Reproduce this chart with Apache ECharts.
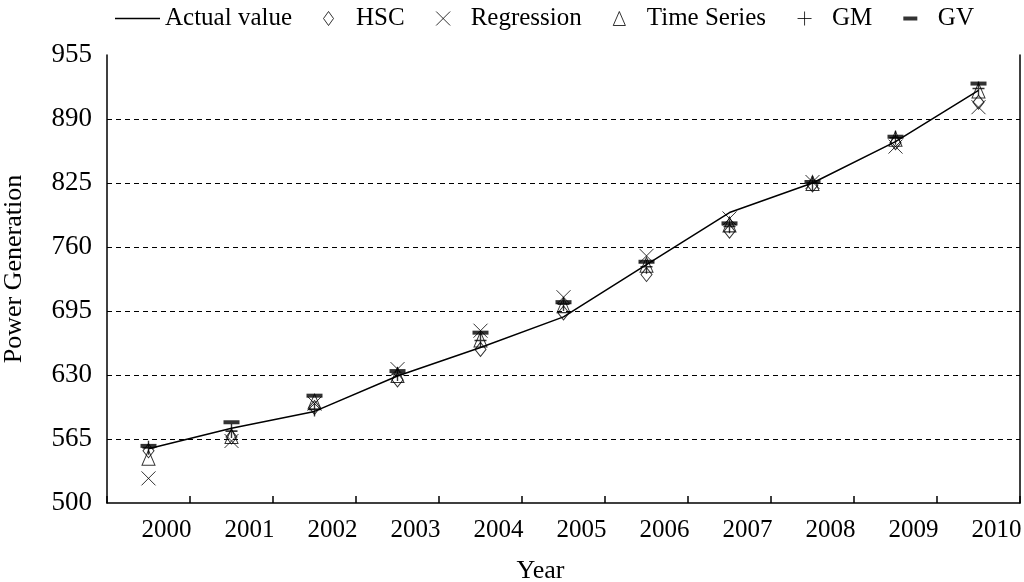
<!DOCTYPE html>
<html>
<head>
<meta charset="utf-8">
<script src="https://cdn.jsdelivr.net/npm/echarts@6/dist/echarts.min.js"></script>
<style>
html,body{margin:0;padding:0;background:#fff;}
#chart{width:1024px;height:582px;}
</style>
</head>
<body>
<div id="chart"></div>
<script>
var years = ['2000','2001','2002','2003','2004','2005','2006','2007','2008','2009','2010'];
var actualValue = [555, 576, 593, 629, 658, 689, 742, 795, 825, 867, 919];
var hscValue    = [553, 567, 597, 625, 656, 693, 732, 776, 823, 866, 907];
var regressionValue = [525, 563, 601, 636, 675, 709, 751, 789, 826, 862, 902];
var timeSeriesValue = [546, 568, 603, 630, 666, 701, 742, 783, 825, 870, 919];
var gmValue = [556, 573, 595, 631, 665, 702, 740, 781, 825, 871, 921];
var gvValue = [558, 582, 609, 634, 673, 704, 745, 784, 826, 872, 926];
var yTicks = {min: 500, max: 955, interval: 65};

var FONT = 'Liberation Serif';
var linePath = 'path://M0,0L45,0L45,1.5L0,1.5Z';
var diamondPath = 'path://M5,0L10,7L5,14L0,7Z';
var crossPath = 'path://M0,0L14,14M14,0L0,14';
var trianglePath = 'path://M6.5,0L13,15L0,15Z';
var plusPath = 'path://M6,0L6,12M0,6L12,6';
var barLegendPath = 'path://M0,0L0,0.01M0,14L0,14.01M0,5L14,5L14,9L0,9Z';

var hollow = {color: 'rgba(0,0,0,0)', borderColor: '#000', borderWidth: 1};
var solid = {color: '#000', borderWidth: 0};

var chart = echarts.init(document.getElementById('chart'));
chart.setOption({
  animation: false,
  backgroundColor: '#fff',
  textStyle: {fontFamily: FONT, color: '#000'},
  legend: {
    left: 110, top: 1,
    itemWidth: 45, itemHeight: 14, itemGap: 31,
    selectedMode: false,
    textStyle: {fontFamily: FONT, fontSize: 25, color: '#000'},
    data: [
      {name: 'Actual value', icon: linePath, itemStyle: solid},
      {name: 'HSC', icon: diamondPath, itemStyle: hollow},
      {name: 'Regression', icon: crossPath, itemStyle: hollow},
      {name: 'Time Series', icon: trianglePath, itemStyle: hollow},
      {name: 'GM', icon: plusPath, itemStyle: hollow},
      {name: 'GV', icon: barLegendPath, itemStyle: solid}
    ]
  },
  grid: {left: 107, right: 4, top: 55, bottom: 79, containLabel: false, outerBoundsMode: 'none'},
  xAxis: {
    type: 'category',
    data: years,
    boundaryGap: true,
    name: 'Year',
    nameLocation: 'middle',
    nameGap: 55,
    nameTextStyle: {fontFamily: FONT, fontSize: 26, color: '#000', padding: [0, 46, 0, 0]},
    axisLine: {show: true, lineStyle: {color: '#000', width: 1.5}},
    axisTick: {show: true, inside: true, length: 7, alignWithLabel: false, lineStyle: {color: '#000', width: 1.5}},
    axisLabel: {interval: 0, margin: 15, fontFamily: FONT, fontSize: 25, color: '#000', padding: [0, 0, 0, 36]},
    splitLine: {show: false}
  },
  yAxis: [{
    type: 'value',
    min: yTicks.min, max: yTicks.max, interval: yTicks.interval,
    name: 'Power Generation',
    nameLocation: 'middle',
    nameGap: 80,
    nameTextStyle: {fontFamily: FONT, fontSize: 26, color: '#000', padding: [0, 0, 0, 20]},
    axisLine: {show: true, lineStyle: {color: '#000', width: 1.5}},
    axisTick: {show: false},
    axisLabel: {margin: 15, fontFamily: FONT, fontSize: 27, color: '#000'},
    splitLine: {show: true, showMinLine: false, showMaxLine: false, lineStyle: {color: '#000', width: 1, type: [5, 4]}}
  }, {
    type: 'value',
    position: 'right',
    min: yTicks.min, max: yTicks.max, interval: yTicks.interval,
    axisLine: {show: true, lineStyle: {color: '#000', width: 1.5}},
    axisTick: {show: false},
    axisLabel: {show: false},
    splitLine: {show: false}
  }],
  series: [
    {
      name: 'Actual value', type: 'line', data: actualValue,
      symbol: 'none', lineStyle: {color: '#000', width: 1.5}, itemStyle: {color: '#000'},
      emphasis: {disabled: true}, z: 2
    },
    {
      name: 'HSC', type: 'scatter', data: hscValue,
      symbol: diamondPath, symbolSize: [11, 14], itemStyle: hollow,
      emphasis: {disabled: true}, z: 3
    },
    {
      name: 'Regression', type: 'scatter', data: regressionValue,
      symbol: crossPath, symbolSize: [14, 14], itemStyle: hollow,
      emphasis: {disabled: true}, z: 3
    },
    {
      name: 'Time Series', type: 'scatter', data: timeSeriesValue,
      symbol: trianglePath, symbolSize: [13, 15], itemStyle: hollow,
      emphasis: {disabled: true}, z: 3
    },
    {
      name: 'GM', type: 'scatter', data: gmValue,
      symbol: plusPath, symbolSize: [12, 14], itemStyle: {color: 'rgba(0,0,0,0)', borderColor: '#000', borderWidth: 1.5},
      emphasis: {disabled: true}, z: 3
    },
    {
      name: 'GV', type: 'scatter', data: gvValue,
      symbol: 'rect', symbolSize: [16, 4], itemStyle: solid,
      emphasis: {disabled: true}, z: 4
    }
  ]
});
</script>
</body>
</html>
